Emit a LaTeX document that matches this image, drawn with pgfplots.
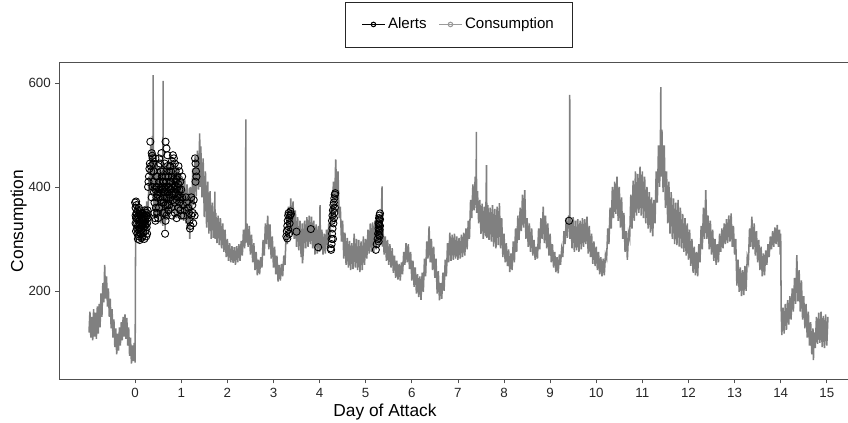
\documentclass[border=0pt]{standalone}
\usepackage{fontspec}
\setmainfont{Liberation Sans}
\usepackage{pgfplots}
\pgfplotsset{compat=1.18}

\definecolor{consgray}{RGB}{128,128,128}
\definecolor{axisgray}{RGB}{80,80,80}

\begin{document}
\begin{tikzpicture}
\begin{axis}[
  name=ax, at={(0,0)}, anchor=south west,
  scale only axis,
  width=591.375pt, height=237.45pt,
  xmin=-1.64, xmax=15.46,
  ymin=30, ymax=639,
  axis x line*=box, axis y line*=left,
  axis line style={axisgray, line width=0.6pt},
  xtick={0,...,15}, ytick={200,400,600},
  xtick pos=left, ytick pos=left,
  tick align=outside, major tick length=3pt,
  tick style={axisgray, line width=0.6pt},
  /pgf/number format/assume math mode=true,
  ticklabel style={font=\fontsize{10}{12}\selectfont, text=black!85},
  xlabel={Day of Attack}, ylabel={Consumption},
  label style={font=\fontsize{13}{15}\selectfont, text=black},
  xlabel style={at={(rel axis cs:0.4128,0)}, anchor=north, yshift=-15pt},
  ylabel style={at={(rel axis cs:0,0.5)}, anchor=south, inner sep=0pt, yshift=24.4pt},
  legend columns=2,
  legend style={at={(0.5067,1.1207)}, anchor=center, draw=black!85, line width=0.6pt,
    font=\fontsize{11.3}{13}\selectfont, inner xsep=12pt, inner ysep=10pt,
    /tikz/every even column/.append style={column sep=7pt}},
  legend cell align=left,
]
\addlegendimage{black, line width=0.8pt, mark=o, mark size=1.7pt, mark options={fill=white}}
\addlegendentry{Alerts}
\addlegendimage{consgray!80, line width=0.8pt, mark=o, mark size=1.7pt, mark options={fill=white}}
\addlegendentry{Consumption}

% consumption series
\addplot[consgray, line width=1.15pt, forget plot] coordinates {
(-1.00,120) (-0.98,160) (-0.96,110) (-0.94,150) (-0.92,105) (-0.90,165) (-0.88,112) (-0.86,158) (-0.84,108) (-0.82,170)
(-0.80,118) (-0.78,175) (-0.76,130) (-0.74,195) (-0.72,150) (-0.70,215) (-0.68,178) (-0.66,250) (-0.64,185) (-0.62,228)
(-0.60,170) (-0.58,205) (-0.56,150) (-0.54,185) (-0.52,128) (-0.50,165) (-0.48,110) (-0.46,145) (-0.44,92) (-0.42,128)
(-0.40,78) (-0.38,118) (-0.36,85) (-0.34,130) (-0.32,95) (-0.30,140) (-0.28,105) (-0.26,150) (-0.24,112) (-0.22,155)
(-0.20,108) (-0.18,148) (-0.16,95) (-0.14,130) (-0.12,75) (-0.10,110) (-0.08,60) (-0.06,95) (-0.04,65) (-0.02,100)
(0.00,62) (0.01,300) (0.010,372) (0.025,305) (0.050,365) (0.075,302) (0.100,360) (0.125,298) (0.150,355) (0.175,303)
(0.200,362) (0.225,308) (0.250,372) (0.275,330) (0.300,420) (0.320,385) (0.340,480) (0.360,395) (0.375,498) (0.390,400)
(0.392,615) (0.395,420) (0.410,345) (0.425,450) (0.450,340) (0.475,445) (0.500,338) (0.525,440) (0.550,330) (0.575,432)
(0.600,325) (0.608,604) (0.612,330) (0.625,438) (0.650,318) (0.675,445) (0.700,340) (0.725,450) (0.750,348) (0.775,452)
(0.800,352) (0.825,448) (0.850,345) (0.875,445) (0.900,340) (0.925,438) (0.950,342) (0.975,425) (1.000,340) (1.025,420)
(1.050,335) (1.075,415) (1.100,330) (1.125,405) (1.150,322) (1.175,398) (1.185,300) (1.200,400) (1.225,350) (1.250,435)
(1.275,365) (1.300,460) (1.325,382) (1.350,470) (1.375,395) (1.400,503) (1.410,400) (1.425,478) (1.450,380) (1.475,455)
(1.500,342) (1.525,430) (1.550,322) (1.575,410) (1.600,310) (1.625,392) (1.650,300) (1.675,370) (1.700,302) (1.725,360)
(1.730,391) (1.735,300) (1.750,350) (1.775,292) (1.800,345) (1.825,288) (1.850,340) (1.875,282) (1.900,330) (1.925,275)
(1.950,318) (1.975,265) (2.000,300) (2.025,258) (2.050,292) (2.075,255) (2.100,286) (2.125,254) (2.150,284) (2.175,250)
(2.200,286) (2.225,255) (2.250,290) (2.275,258) (2.300,296) (2.325,268) (2.350,318) (2.375,282) (2.398,328) (2.400,530)
(2.403,292) (2.425,330) (2.450,285) (2.475,325) (2.500,270) (2.525,308) (2.550,255) (2.575,292) (2.600,240) (2.625,275)
(2.650,230) (2.675,260) (2.700,232) (2.725,265) (2.750,245) (2.775,298) (2.800,268) (2.825,330) (2.850,290) (2.875,345)
(2.900,280) (2.925,328) (2.950,262) (2.975,305) (3.000,245) (3.025,285) (3.050,232) (3.075,268) (3.100,218) (3.125,250)
(3.150,220) (3.175,252) (3.200,228) (3.225,268) (3.250,250) (3.275,310) (3.300,290) (3.325,362) (3.350,310) (3.375,378)
(3.400,308) (3.425,372) (3.450,300) (3.475,355) (3.500,285) (3.525,342) (3.550,278) (3.575,335) (3.600,265) (3.625,330)
(3.630,253) (3.650,280) (3.675,335) (3.700,282) (3.725,342) (3.750,285) (3.775,345) (3.800,290) (3.825,343) (3.850,282)
(3.875,335) (3.900,270) (3.925,328) (3.950,272) (3.975,325) (4.000,275) (4.010,365) (4.020,278) (4.050,318) (4.075,270)
(4.100,310) (4.125,272) (4.150,318) (4.175,285) (4.200,330) (4.225,300) (4.250,360) (4.275,330) (4.300,410) (4.325,360)
(4.350,453) (4.375,375) (4.400,430) (4.425,340) (4.450,362) (4.475,295) (4.500,335) (4.525,262) (4.550,312) (4.575,250)
(4.600,302) (4.625,245) (4.650,296) (4.675,240) (4.700,292) (4.725,242) (4.750,310) (4.775,245) (4.800,300) (4.825,240)
(4.850,298) (4.875,236) (4.900,295) (4.925,240) (4.950,305) (4.975,250) (5.000,300) (5.025,262) (5.050,318) (5.075,272)
(5.100,330) (5.125,275) (5.150,332) (5.175,274) (5.200,335) (5.225,280) (5.250,338) (5.275,288) (5.300,340) (5.325,290)
(5.355,401) (5.360,285) (5.375,320) (5.400,270) (5.425,305) (5.450,258) (5.475,298) (5.500,250) (5.525,290) (5.550,245)
(5.575,282) (5.600,235) (5.625,268) (5.650,225) (5.675,258) (5.700,222) (5.725,252) (5.750,220) (5.775,255) (5.800,232)
(5.825,275) (5.850,250) (5.875,292) (5.900,255) (5.925,290) (5.950,242) (5.975,275) (6.000,220) (6.025,258) (6.050,208)
(6.075,245) (6.100,195) (6.125,232) (6.150,188) (6.175,228) (6.200,183) (6.225,235) (6.250,198) (6.275,262) (6.300,228)
(6.325,295) (6.350,262) (6.375,324) (6.400,255) (6.425,300) (6.450,240) (6.475,285) (6.500,225) (6.525,262) (6.550,195)
(6.575,238) (6.600,182) (6.625,215) (6.650,185) (6.675,235) (6.700,200) (6.725,260) (6.750,228) (6.775,292) (6.800,255)
(6.825,312) (6.850,258) (6.875,308) (6.900,260) (6.925,310) (6.950,262) (6.975,305) (7.000,260) (7.025,302) (7.050,262)
(7.075,308) (7.100,265) (7.125,312) (7.150,268) (7.175,320) (7.200,280) (7.225,335) (7.250,300) (7.275,375) (7.300,340)
(7.325,405) (7.350,355) (7.375,420) (7.395,360) (7.400,506) (7.405,350) (7.425,392) (7.450,330) (7.475,375) (7.500,310)
(7.525,368) (7.550,300) (7.575,362) (7.600,305) (7.620,442) (7.630,302) (7.650,365) (7.675,298) (7.700,360) (7.725,295)
(7.750,365) (7.775,285) (7.800,358) (7.825,282) (7.850,362) (7.875,288) (7.900,369) (7.925,282) (7.950,340) (7.975,265)
(8.000,310) (8.025,255) (8.050,292) (8.075,248) (8.100,280) (8.125,236) (8.150,272) (8.175,240) (8.200,295) (8.225,255)
(8.250,320) (8.275,275) (8.300,345) (8.325,298) (8.350,360) (8.375,315) (8.400,385) (8.425,322) (8.450,394) (8.475,300)
(8.500,340) (8.525,285) (8.550,330) (8.575,275) (8.600,320) (8.625,268) (8.650,298) (8.675,260) (8.700,285) (8.725,262)
(8.750,320) (8.775,280) (8.800,340) (8.825,300) (8.850,362) (8.875,292) (8.900,345) (8.925,282) (8.950,330) (8.975,268)
(9.000,310) (9.025,255) (9.050,290) (9.075,245) (9.100,275) (9.125,236) (9.150,265) (9.175,234) (9.200,270) (9.225,250)
(9.250,280) (9.275,265) (9.300,315) (9.325,290) (9.350,340) (9.375,302) (9.400,345) (9.420,320) (9.425,577) (9.430,300)
(9.450,340) (9.475,282) (9.500,342) (9.525,275) (9.550,335) (9.575,278) (9.600,338) (9.625,275) (9.650,335) (9.675,280)
(9.700,340) (9.725,285) (9.750,338) (9.775,290) (9.800,343) (9.825,272) (9.850,325) (9.875,265) (9.900,310) (9.925,252)
(9.950,295) (9.975,248) (10.000,285) (10.025,240) (10.050,275) (10.075,232) (10.100,265) (10.125,228) (10.150,262) (10.175,230)
(10.200,270) (10.225,262) (10.250,320) (10.275,290) (10.300,360) (10.325,320) (10.350,400) (10.375,340) (10.400,410) (10.425,348)
(10.450,420) (10.475,335) (10.500,400) (10.525,322) (10.550,380) (10.575,300) (10.600,350) (10.625,275) (10.650,315) (10.675,260)
(10.700,311) (10.725,300) (10.750,385) (10.775,320) (10.800,412) (10.825,335) (10.850,430) (10.875,345) (10.900,425) (10.925,350)
(10.950,439) (10.975,345) (11.000,430) (11.025,340) (11.050,420) (11.075,330) (11.100,400) (11.125,320) (11.150,390) (11.175,312)
(11.200,380) (11.225,305) (11.250,375) (11.275,330) (11.300,430) (11.325,370) (11.350,480) (11.375,400) (11.395,516) (11.400,592)
(11.405,420) (11.425,510) (11.450,390) (11.475,480) (11.500,360) (11.525,430) (11.550,330) (11.575,410) (11.600,310) (11.625,390)
(11.650,300) (11.675,378) (11.700,290) (11.725,370) (11.750,288) (11.775,375) (11.800,285) (11.825,360) (11.850,282) (11.875,348)
(11.900,275) (11.925,340) (11.950,268) (11.975,330) (12.000,260) (12.025,318) (12.050,248) (12.075,300) (12.100,235) (12.125,285)
(12.150,230) (12.175,275) (12.200,228) (12.225,290) (12.250,255) (12.275,325) (12.300,280) (12.325,360) (12.350,300) (12.375,394)
(12.400,300) (12.425,345) (12.450,280) (12.475,335) (12.500,270) (12.525,318) (12.550,258) (12.575,300) (12.600,250) (12.625,290)
(12.650,255) (12.675,310) (12.700,275) (12.725,320) (12.750,282) (12.775,330) (12.800,290) (12.825,338) (12.850,292) (12.875,345)
(12.900,295) (12.925,349) (12.950,285) (12.975,325) (13.000,270) (13.025,300) (13.050,210) (13.075,260) (13.100,198) (13.125,245)
(13.150,190) (13.175,240) (13.200,192) (13.225,248) (13.250,200) (13.275,265) (13.300,255) (13.325,320) (13.350,285) (13.375,343)
(13.400,280) (13.425,330) (13.450,268) (13.475,315) (13.500,255) (13.525,298) (13.550,240) (13.575,285) (13.600,228) (13.625,272)
(13.650,230) (13.675,278) (13.700,250) (13.725,290) (13.750,265) (13.775,305) (13.800,280) (13.825,315) (13.850,285) (13.875,322)
(13.900,290) (13.925,327) (13.950,285) (13.975,318) (13.990,270) (14.000,310) (14.010,170) (14.025,115) (14.050,168) (14.075,118)
(14.100,175) (14.125,125) (14.150,182) (14.175,135) (14.200,190) (14.225,145) (14.250,205) (14.275,160) (14.300,225) (14.325,175)
(14.350,269) (14.375,180) (14.400,240) (14.425,160) (14.450,220) (14.475,145) (14.500,190) (14.525,128) (14.550,175) (14.575,110)
(14.600,160) (14.625,95) (14.650,140) (14.675,78) (14.700,128) (14.710,67) (14.725,120) (14.750,90) (14.775,150) (14.800,98)
(14.825,158) (14.850,100) (14.875,160) (14.900,92) (14.925,152) (14.950,90) (14.975,155) (15.000,95) (15.025,150)
};

% alerts
\addplot[only marks, mark=o, mark size=2.7pt, mark options={black, line width=0.65pt}, forget plot] coordinates {
(0.00,370) (0.01,360) (0.02,372) (0.03,350) (0.02,340) (0.01,330) (0.04,320) (0.05,310) (0.06,300) (0.08,305)
(0.10,298) (0.12,310) (0.14,302) (0.16,305) (0.18,312) (0.20,300) (0.22,315) (0.24,305) (0.26,310) (0.07,345)
(0.09,335) (0.11,355) (0.13,340) (0.15,350) (0.17,330) (0.19,345) (0.21,355) (0.23,340) (0.25,350) (0.26,330)
(0.03,365) (0.06,325) (0.10,320) (0.14,325) (0.18,335) (0.22,325) (0.24,345) (0.08,360) (0.12,345) (0.16,340)
(0.20,330) (0.02,315) (0.05,355) (0.27,355) (0.26,345) (0.04,338) (0.07,318) (0.09,348) (0.11,328) (0.13,318)
(0.15,338) (0.17,348) (0.19,322) (0.21,338) (0.23,328) (0.01,345) (0.03,328) (0.05,342) (0.25,322) (0.27,340)
(0.28,400) (0.29,410) (0.30,420) (0.31,435) (0.32,445) (0.33,487) (0.34,440) (0.35,430) (0.36,465) (0.37,460)
(0.38,455) (0.39,445) (0.40,430) (0.40,410) (0.41,390) (0.42,370) (0.42,350) (0.43,340) (0.44,335) (0.38,400)
(0.36,380) (0.45,360) (0.46,380) (0.47,400) (0.48,420) (0.50,440) (0.52,455) (0.54,445) (0.56,430) (0.48,350)
(0.50,340) (0.52,360) (0.54,380) (0.56,400) (0.58,420) (0.60,395) (0.62,370) (0.64,350) (0.66,335) (0.68,345)
(0.65,310) (0.66,487) (0.68,474) (0.70,461) (0.70,440) (0.72,420) (0.74,400) (0.76,380) (0.78,360) (0.80,345)
(0.72,355) (0.74,365) (0.76,410) (0.78,430) (0.80,450) (0.82,461) (0.84,455) (0.86,445) (0.88,430) (0.90,415)
(0.92,400) (0.94,385) (0.96,370) (0.98,355) (1.00,345) (0.82,400) (0.84,385) (0.86,370) (0.88,390) (0.90,375)
(0.92,420) (0.94,440) (0.96,430) (0.98,410) (1.00,395) (1.02,380) (1.04,365) (1.02,420) (0.60,350) (0.58,370)
(0.62,430) (0.64,445) (0.86,350) (0.90,340) (0.94,360) (0.57,465) (0.46,420) (0.44,455)
(0.50,390) (0.52,410) (0.54,395) (0.56,375) (0.58,395) (0.60,410) (0.62,390) (0.64,380) (0.66,395) (0.68,410)
(0.70,390) (0.72,380) (0.74,385) (0.76,395) (0.78,395) (0.80,385) (0.82,375) (0.84,415) (0.86,400) (0.88,410)
(0.90,395) (0.92,380) (0.94,405) (0.96,395) (0.98,380) (0.66,365) (0.68,380) (0.70,365) (0.72,400) (0.74,430)
(0.76,440) (0.78,410) (0.80,420) (0.62,410) (0.64,400) (0.66,420) (0.68,430) (0.48,385) (0.46,400) (0.44,395)
(1.05,345) (1.08,355) (1.10,380) (1.12,370) (1.15,360) (1.17,350) (1.18,335) (1.20,325) (1.22,345) (1.24,365)
(1.22,380) (1.25,350) (1.27,375) (1.19,320) (1.30,455) (1.31,445) (1.32,430) (1.33,420) (1.31,410) (1.29,345)
(1.26,330)
(3.28,305) (3.29,315) (3.30,325) (3.31,335) (3.32,345) (3.33,350) (3.34,340) (3.35,330) (3.36,345) (3.37,353)
(3.38,348) (3.30,301) (3.32,318) (3.34,310) (3.50,314) (3.81,319) (3.97,284)
(4.24,282) (4.25,279) (4.26,300) (4.27,310) (4.28,320) (4.27,335) (4.28,345) (4.29,355) (4.30,365) (4.31,370)
(4.32,378) (4.33,385) (4.34,388) (4.30,330) (4.29,300) (4.31,340) (4.32,350) (4.33,360) (4.26,290)
(5.22,279) (5.24,290) (5.26,300) (5.27,310) (5.28,320) (5.28,330) (5.29,340) (5.30,345) (5.31,349) (5.30,335)
(5.29,315) (5.31,325) (5.30,305) (5.28,295) (5.29,328) (5.30,318) (5.31,338) (5.29,308) (5.30,325)
(9.41,335)
};
\end{axis}
\pgfresetboundingbox
\path[use as bounding box] (-44.625pt,-32.775pt) rectangle (591.375pt,284.475pt);
\end{tikzpicture}
\end{document}
